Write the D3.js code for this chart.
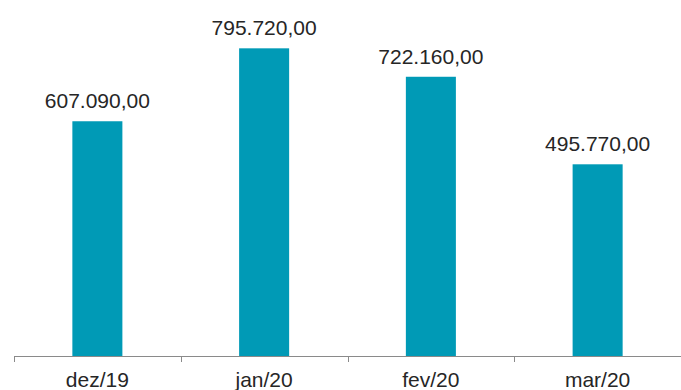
<!DOCTYPE html>
<html>
<head>
<meta charset="utf-8">
<script src="https://cdn.jsdelivr.net/npm/d3@7"></script>
<style>
  html, body { margin: 0; padding: 0; background: #ffffff; }
  svg { display: block; }
  text { font-family: "Liberation Sans", Arial, sans-serif; fill: #262626; }
</style>
</head>
<body>
<svg id="chart" width="681" height="390"></svg>
<script>
// Monthly totals
const categories = ["dez/19", "jan/20", "fev/20", "mar/20"];
const values = [607090, 795720, 722160, 495770];

const svg = d3.select("#chart");
const margin = { left: 14, right: 0, top: 8, bottom: 34 };
const W = 681, H = 390;

const x = d3.scaleBand()
  .domain(categories)
  .range([margin.left, W - margin.right])
  .paddingInner(0)
  .paddingOuter(0);

const y = d3.scaleLinear()
  .domain([0, 900000])
  .range([H - margin.bottom, margin.top]);

const barW = x.bandwidth() * 0.3;
const fmt = v => d3.format(",.2f")(v).replace(/,/g, "#").replace(/\./g, ",").replace(/#/g, ".");

// Bars
svg.append("g").selectAll("rect")
  .data(values)
  .join("rect")
  .attr("x", (d, i) => x(categories[i]) + (x.bandwidth() - barW) / 2)
  .attr("y", d => y(d))
  .attr("width", barW)
  .attr("height", d => y(0) - y(d))
  .attr("fill", "#009AB6");

// Value labels
svg.append("g").selectAll("text")
  .data(values)
  .join("text")
  .attr("x", (d, i) => x(categories[i]) + x.bandwidth() / 2)
  .attr("y", d => y(d) - 13)
  .attr("text-anchor", "middle")
  .attr("font-size", 21)
  .text(d => fmt(d));

// Category axis with boundary ticks
const axisY = y(0);
const ax = svg.append("g");
ax.append("line")
  .attr("x1", margin.left).attr("x2", W)
  .attr("y1", axisY + 0.5).attr("y2", axisY + 0.5)
  .attr("stroke", "#8a8a8a").attr("stroke-width", 1);
const bounds = categories.map(c => x(c)).concat([x.range()[1]]);
ax.selectAll("line.tick")
  .data(bounds)
  .join("line")
  .attr("class", "tick")
  .attr("x1", d => Math.round(d) + 0.5).attr("x2", d => Math.round(d) + 0.5)
  .attr("y1", axisY).attr("y2", axisY + 6)
  .attr("stroke", "#8a8a8a").attr("stroke-width", 1);
ax.selectAll("text")
  .data(categories)
  .join("text")
  .attr("x", d => x(d) + x.bandwidth() / 2)
  .attr("y", axisY + 31)
  .attr("text-anchor", "middle")
  .attr("font-size", 21)
  .text(d => d);
</script>
</body>
</html>
